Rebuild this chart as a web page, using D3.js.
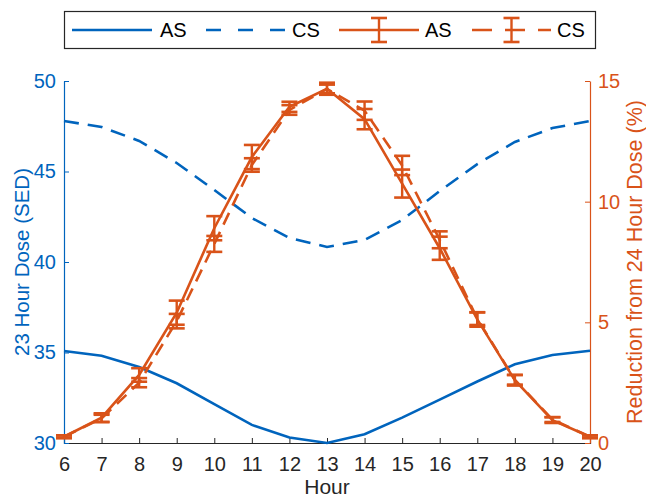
<!DOCTYPE html>
<html>
<head>
<meta charset="utf-8">
<script src="https://cdn.jsdelivr.net/npm/d3@7"></script>
<style>
  body { margin: 0; background: #fff; }
  svg text { font-family: "Liberation Sans", Arial, Helvetica, sans-serif; }
</style>
</head>
<body>
<div id="chart"></div>
<script>
// hours of the day
const hours = [6, 7, 8, 9, 10, 11, 12, 13, 14, 15, 16, 17, 18, 19, 20];

// left axis: 23 hour dose (SED)
const asDose = [35.08, 34.82, 34.2, 33.3, 32.15, 31.0, 30.3, 30.0, 30.48, 31.4, 32.4, 33.4, 34.35, 34.86, 35.1];
const csDose = [47.79, 47.46, 46.69, 45.47, 43.98, 42.43, 41.33, 40.83, 41.22, 42.32, 43.92, 45.41, 46.63, 47.4, 47.79];

// right axis: reduction from 24 hour dose (%) with error
const asRed = [0.26, 1.05, 2.82, 5.4, 8.9, 11.85, 13.93, 14.68, 13.42, 10.75, 8.07, 5.12, 2.6, 0.95, 0.26];
const asErr = [0.06, 0.18, 0.28, 0.5, 0.5, 0.5, 0.21, 0.25, 0.42, 0.58, 0.48, 0.3, 0.22, 0.12, 0.06];
const csRed = [0.26, 1.02, 2.5, 5.05, 8.25, 11.52, 13.8, 14.67, 13.77, 11.5, 8.42, 5.15, 2.62, 0.97, 0.26];
const csErr = [0.05, 0.15, 0.19, 0.3, 0.33, 0.28, 0.2, 0.18, 0.38, 0.4, 0.35, 0.26, 0.2, 0.1, 0.05];

const leftTicks = [30, 35, 40, 45, 50];
const rightTicks = [0, 5, 10, 15];
const legendLabels = ["AS", "CS", "AS", "CS"];

const blue = "#0064BD";
const orange = "#D95319";
const axisGrey = "#262626";

const margin = {top: 81, right: 56, bottom: 57, left: 64};
const W = 646, H = 500;
const width = W - margin.left - margin.right;
const height = H - margin.top - margin.bottom;

const svg = d3.select("#chart").append("svg")
  .attr("width", W)
  .attr("height", H);

const g = svg.append("g")
  .attr("transform", "translate(" + margin.left + "," + margin.top + ")");

const xScale = d3.scaleLinear().domain([6, 20]).range([0, width]);
const yLeft = d3.scaleLinear().domain([30, 50]).range([height, 0]);
const yRight = d3.scaleLinear().domain([0, 15]).range([height, 0]);

// x axis (ticks inside)
const xAxisG = g.append("g")
  .attr("transform", "translate(0," + height + ")")
  .call(d3.axisBottom(xScale).tickValues(hours).tickSize(-5).tickPadding(14).tickFormat(d3.format("d")));
xAxisG.select(".domain").attr("stroke", axisGrey).attr("stroke-width", 1.2);
xAxisG.selectAll(".tick line").attr("stroke", axisGrey);
xAxisG.selectAll("text").attr("fill", axisGrey).style("font-size", "20px");

// left axis
const yLeftG = g.append("g")
  .call(d3.axisLeft(yLeft).tickValues(leftTicks).tickSize(-5).tickPadding(8).tickSizeOuter(0));
yLeftG.select(".domain").attr("stroke", blue).attr("stroke-width", 1.2);
yLeftG.selectAll(".tick line").attr("stroke", blue);
yLeftG.selectAll("text").attr("fill", blue).style("font-size", "20px");

// right axis
const yRightG = g.append("g")
  .attr("transform", "translate(" + width + ",0)")
  .call(d3.axisRight(yRight).tickValues(rightTicks).tickSize(-5).tickPadding(8).tickSizeOuter(0));
yRightG.select(".domain").attr("stroke", orange).attr("stroke-width", 1.2);
yRightG.selectAll(".tick line").attr("stroke", orange);
yRightG.selectAll("text").attr("fill", orange).style("font-size", "20px");

// axis labels
g.append("text")
  .attr("x", width / 2)
  .attr("y", height + 51)
  .attr("text-anchor", "middle")
  .attr("fill", axisGrey)
  .style("font-size", "21px")
  .text("Hour");

g.append("text")
  .attr("transform", "rotate(-90)")
  .attr("x", -height / 2)
  .attr("y", -35)
  .attr("text-anchor", "middle")
  .attr("fill", blue)
  .style("font-size", "20.5px")
  .text("23 Hour Dose (SED)");

g.append("text")
  .attr("transform", "rotate(-90)")
  .attr("x", -height / 2)
  .attr("y", width + 52)
  .attr("text-anchor", "middle")
  .attr("fill", orange)
  .style("font-size", "21.5px")
  .text("Reduction from 24 Hour Dose (%)");

// blue lines
const leftLine = (vals) => d3.line().x((d, i) => xScale(hours[i])).y((d) => yLeft(d))(vals);

g.append("path").attr("d", leftLine(asDose))
  .attr("fill", "none").attr("stroke", blue).attr("stroke-width", 2.6);
g.append("path").attr("d", leftLine(csDose))
  .attr("fill", "none").attr("stroke", blue).attr("stroke-width", 2.6)
  .attr("stroke-dasharray", "15,9");

// orange lines with error bars
const rightLine = (vals) => d3.line().x((d, i) => xScale(hours[i])).y((d) => yRight(d))(vals);

function drawErrorBars(vals, errs) {
  const bars = g.append("g");
  hours.forEach((h, i) => {
    const x = xScale(h);
    const y0 = yRight(vals[i] - errs[i]);
    const y1 = yRight(vals[i] + errs[i]);
    bars.append("line").attr("x1", x).attr("x2", x).attr("y1", y0).attr("y2", y1)
      .attr("stroke", orange).attr("stroke-width", 2.4);
    [y0, y1].forEach((y) => {
      bars.append("line").attr("x1", x - 8).attr("x2", x + 8).attr("y1", y).attr("y2", y)
        .attr("stroke", orange).attr("stroke-width", 2.6);
    });
  });
}

g.append("path").attr("d", rightLine(asRed))
  .attr("fill", "none").attr("stroke", orange).attr("stroke-width", 2.6);
drawErrorBars(asRed, asErr);

g.append("path").attr("d", rightLine(csRed))
  .attr("fill", "none").attr("stroke", orange).attr("stroke-width", 2.6)
  .attr("stroke-dasharray", "13,8");
drawErrorBars(csRed, csErr);

// legend
const legend = svg.append("g");
legend.append("rect")
  .attr("x", 64.5).attr("y", 11.5).attr("width", 531).attr("height", 37)
  .attr("fill", "#fff").attr("stroke", axisGrey).attr("stroke-width", 1.2);

const items = [
  {x0: 72, x1: 152, tx: 160, color: blue, dash: null, err: false},
  {x0: 206, x1: 286, tx: 292, color: blue, dash: "15,17", err: false},
  {x0: 339, x1: 419, tx: 425, color: orange, dash: null, err: true},
  {x0: 472, x1: 551, tx: 557, color: orange, dash: "20,13", err: true}
];
items.forEach((it, i) => {
  const ly = 30;
  legend.append("line")
    .attr("x1", it.x0).attr("x2", it.x1).attr("y1", ly).attr("y2", ly)
    .attr("stroke", it.color).attr("stroke-width", 2.6)
    .attr("stroke-dasharray", it.dash);
  if (it.err) {
    const cx = (it.x0 + it.x1) / 2;
    legend.append("line").attr("x1", cx).attr("x2", cx).attr("y1", ly - 12).attr("y2", ly + 12)
      .attr("stroke", it.color).attr("stroke-width", 2.4);
    [ly - 12, ly + 12].forEach((y) => {
      legend.append("line").attr("x1", cx - 8).attr("x2", cx + 8).attr("y1", y).attr("y2", y)
        .attr("stroke", it.color).attr("stroke-width", 2.6);
    });
  }
  legend.append("text")
    .attr("x", it.tx).attr("y", ly + 7)
    .attr("fill", "#000")
    .style("font-size", "20px")
    .text(legendLabels[i]);
});
</script>
</body>
</html>
